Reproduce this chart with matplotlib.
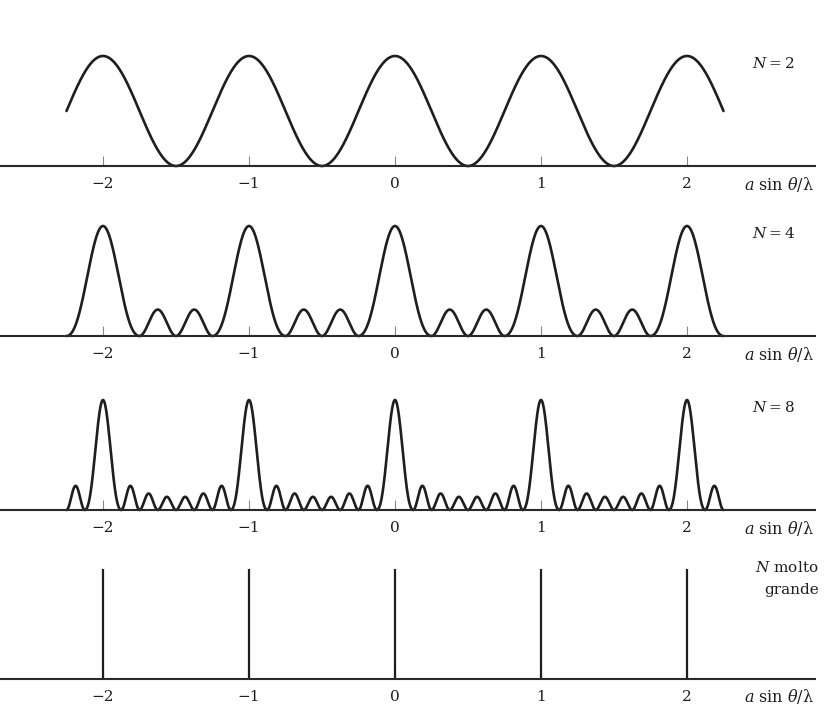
import numpy as np
import matplotlib
matplotlib.use("Agg")
import matplotlib.pyplot as plt

plt.rcParams['font.family'] = ['DejaVu Serif']
plt.rcParams['mathtext.fontset'] = 'dejavuserif'

# diffraction orders shown on every axis
orders = [-2, -1, 0, 1, 2]
tick_labels = ['\u22122', '\u22121', '0', '1', '2']

# number of slits for the three curves, with the heights of the
# secondary maxima (principal maxima = 1)
N_values = [2, 4, 8]
side_lobes = {
    2: [],
    4: [0.24, 0.24],
    8: [0.22, 0.15, 0.12, 0.12, 0.15, 0.22],
}
panel_labels = ['$N=2$', '$N=4$', '$N=8$']
x_label = r'$a\ \sin\,\theta/\mathrm{\lambda}$'
x_span = (-2.25, 2.25)

# layout (pixels of the 824x726 figure)
W, H = 824, 726
zero_px, unit_px, peak_px = 395, 146, 110
baselines = [166, 336, 510, 679]
axis_end_px = 815

fig = plt.figure(figsize=(W / 100, H / 100), dpi=100)
fig.patch.set_facecolor('white')

ink = '#1e1e1e'
below, above = 40, 130


def make_axes(base):
    ax = fig.add_axes([0, (H - base - below) / H, axis_end_px / W, (below + above) / H])
    ax.set_xlim(-zero_px / unit_px, (axis_end_px - zero_px) / unit_px)
    ax.set_ylim(-below / peak_px, above / peak_px)
    for s in ['top', 'right', 'left']:
        ax.spines[s].set_visible(False)
    ax.spines['bottom'].set_position(('data', 0))
    ax.spines['bottom'].set_linewidth(1.5)
    ax.spines['bottom'].set_color('#2a2a2a')
    ax.set_yticks([])
    ax.set_xticks(orders)
    ax.set_xticklabels(tick_labels, fontsize=11)
    ax.tick_params(axis='x', direction='in', length=7, width=0.8,
                   color='#888888', pad=8, labelcolor=ink)
    ax.patch.set_alpha(0)
    ax.text((744 - zero_px) / unit_px, -18 / peak_px, x_label, fontsize=11.5,
            ha='left', va='center', color=ink)
    return ax


def pattern(x, N, lobes):
    u = x - np.round(x)
    v = x - np.floor(x)
    y = np.zeros_like(x)
    main = np.abs(u) < 1.0 / N
    s = np.sin(np.pi * u[main])
    with np.errstate(invalid='ignore', divide='ignore'):
        m = (np.sin(N * np.pi * u[main]) / (N * s)) ** 2
    m[np.abs(s) < 1e-12] = 1.0
    y[main] = m
    k = np.floor(v * N).astype(int)
    for i, h in enumerate(lobes):
        sel = (~main) & (k == i + 1)
        y[sel] = h * np.sin(N * np.pi * v[sel]) ** 2
    return y


x = np.linspace(x_span[0], x_span[1], 6000)
for N, lab, base in zip(N_values, panel_labels, baselines[:3]):
    ax = make_axes(base)
    ax.plot(x, pattern(x, N, side_lobes[N]), color=ink, lw=1.9,
            solid_capstyle='round')
    ax.text((752 - zero_px) / unit_px, 0.93, lab, fontsize=11,
            ha='left', va='center', color=ink)

# N very large: only the principal maxima survive
ax = make_axes(baselines[3])
ax.vlines(orders, 0, 1, color=ink, lw=1.6)
ax.text((787 - zero_px) / unit_px, 1.01, r'$N$ molto', fontsize=11,
        ha='center', va='center', color=ink)
ax.text((792 - zero_px) / unit_px, 0.81, 'grande', fontsize=11,
        ha='center', va='center', color=ink)

fig.savefig('out.png', dpi=100)
